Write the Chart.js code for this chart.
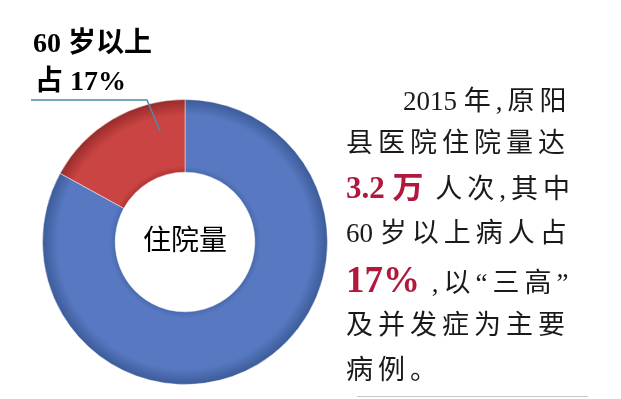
<!DOCTYPE html>
<html>
<head>
<meta charset="utf-8">
<script src="https://cdn.jsdelivr.net/npm/chart.js@4"></script>
<style>
  html, body { margin: 0; padding: 0; background: #fff; }
  #wrap { position: relative; width: 621px; height: 399px; overflow: hidden; }
  #chart { position: absolute; left: 0; top: 0; }
  .txt { position: absolute; white-space: nowrap; color: #1a1a1a; }
  .side { font-family: "Liberation Serif", "Noto Sans CJK SC", serif; font-size: 27px; letter-spacing: 5px; line-height: 32px; }
  .num { letter-spacing: 0; }
  .red { color: #b2173c; font-weight: bold; letter-spacing: 0; }
  .lbl { font-family: "Liberation Serif", "Noto Sans CJK SC", serif; font-weight: bold; font-size: 28px; line-height: 32px; color: #000; }
  .ctr { font-family: "Noto Sans CJK SC", sans-serif; font-size: 28px; line-height: 32px; color: #000; }
  #rule { position: absolute; left: 357px; top: 396px; width: 231px; height: 1px; background: #c8c8c8; }
</style>
</head>
<body>
<div id="wrap">
  <canvas id="chart" width="621" height="399"></canvas>
  <div class="txt lbl" style="left:33px; top:27px;">60 岁以上</div>
  <div class="txt lbl" style="left:35px; top:65px;">占 17%</div>
  <div class="txt ctr" style="left:143px; top:222px;">住院量</div>
  <div class="txt side" style="left:403px; top:85px;"><span class="num">2015 </span>年,原阳</div>
  <div class="txt side" style="left:346px; top:127px;">县医院住院量达</div>
  <div class="txt side" style="left:346px; top:172px;"><span class="red" style="font-size:31px;">3.2 万</span> 人次,其中</div>
  <div class="txt side" style="left:346px; top:217px;"><span class="num">60 </span>岁以上病人占</div>
  <div class="txt side" style="left:346px; top:264px;"><span class="red" style="font-size:37px;">17%</span> ,以“三高”</div>
  <div class="txt side" style="left:346px; top:309px;">及并发症为主要</div>
  <div class="txt side" style="left:346px; top:354px;">病例。</div>
  <div id="rule"></div>
</div>
<script>
// Inpatient share, 2015 (Yuanyang county hospital)
const categories = ['60 岁以下', '60 岁以上'];
const shares = [83, 17];

const blueTone = ['#3b5a98', '#5879c2', '#4a6aaf'];
const redTone  = ['#962a2a', '#c94442', '#b23535'];

function ringGradient(ctx, tone) {
    const chart = ctx.chart;
    const area = chart.chartArea;
    if (!area) return tone[1];
    const cx = (area.left + area.right) / 2;
    const cy = (area.top + area.bottom) / 2;
    const outer = Math.min(area.right - area.left, area.bottom - area.top) / 2;
    const inner = outer * 0.49;
    const g = chart.ctx.createRadialGradient(cx, cy, inner, cx, cy, outer);
    g.addColorStop(0, tone[2]);
    g.addColorStop(0.08, tone[1]);
    g.addColorStop(0.78, tone[1]);
    g.addColorStop(1, tone[0]);
    return g;
}

// leader line from the label to the red slice
const leaderLine = {
    id: 'leaderLine',
    afterDraw(chart) {
        const c = chart.ctx;
        c.save();
        c.strokeStyle = '#4a8cab';
        c.lineWidth = 1.5;
        c.beginPath();
        c.moveTo(31, 100);
        c.lineTo(147, 100);
        c.lineTo(160, 131);
        c.stroke();
        c.restore();
    }
};

new Chart(document.getElementById('chart'), {
    type: 'doughnut',
    data: {
        labels: categories,
        datasets: [{
            data: shares,
            backgroundColor: ctx => ringGradient(ctx, ctx.dataIndex === 0 ? blueTone : redTone),
            borderColor: 'rgba(255,255,255,0.45)',
            borderWidth: 1
        }]
    },
    options: {
        responsive: false,
        animation: false,
        cutout: '49%',
        rotation: 0,
        layout: { padding: { left: 42, right: 293, top: 99, bottom: 14 } },
        plugins: {
            legend: { display: false },
            tooltip: { enabled: false }
        }
    },
    plugins: [leaderLine]
});
</script>
</body>
</html>
